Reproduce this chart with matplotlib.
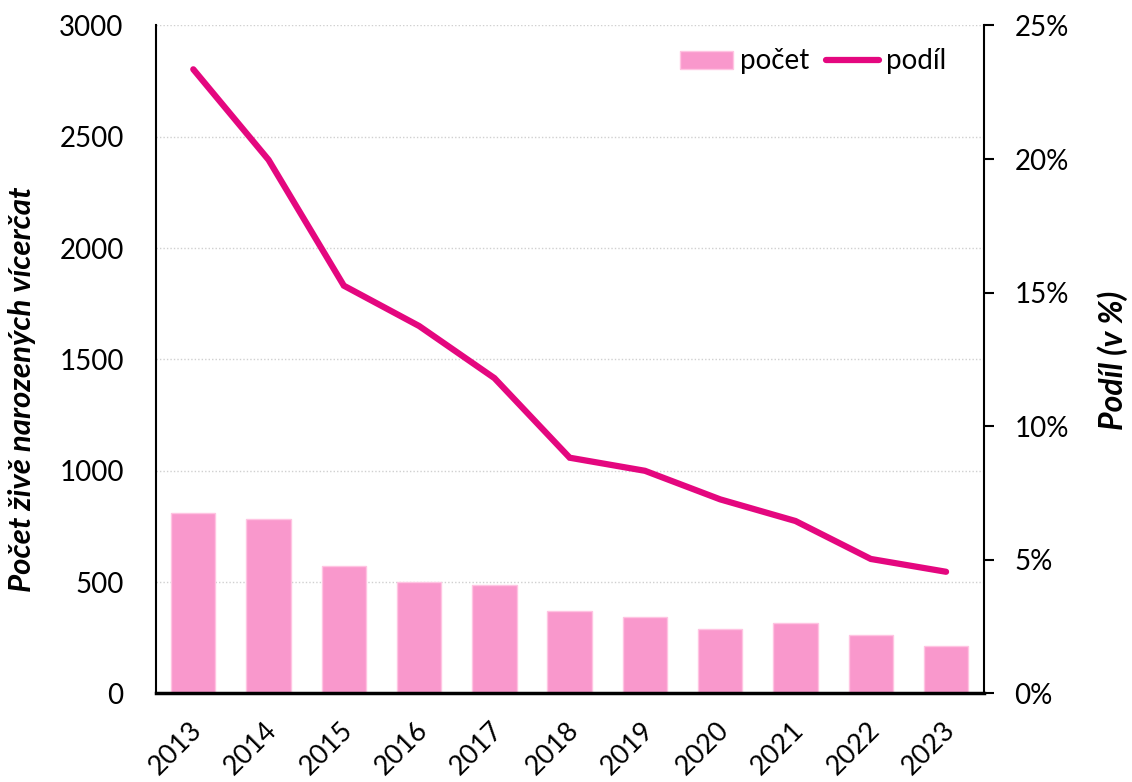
import matplotlib
matplotlib.use("Agg")
import matplotlib.pyplot as plt
import matplotlib.transforms as mtransforms
from matplotlib.ticker import FuncFormatter, MultipleLocator

years = ["2013", "2014", "2015", "2016", "2017", "2018", "2019", "2020", "2021", "2022", "2023"]
pocet = [811, 782, 573, 500, 487, 368, 343, 290, 316, 262, 212]
podil = [23.36, 19.97, 15.26, 13.75, 11.80, 8.82, 8.33, 7.26, 6.45, 5.03, 4.55]

plt.rcParams['font.family'] = ['Lato', 'DejaVu Sans']
FS = 20

fig = plt.figure(figsize=(11.32, 7.82), dpi=100)
ax = fig.add_axes([0.1375, 0.1134, 0.869 - 0.1375, 0.9674 - 0.1134])
ax2 = ax.twinx()

x = list(range(len(years)))
bars = ax.bar(x, pocet, width=0.59, color="#F998CC", edgecolor="#FFC4E2", linewidth=1, zorder=2, label="počet")
line, = ax2.plot(x, podil, color="#E4077F", lw=4.5, solid_capstyle="round", solid_joinstyle="miter", zorder=3, label="podíl")

ax.set_xlim(-0.5, len(years) - 0.5)
ax.set_ylim(0, 3000)
ax2.set_ylim(0, 25)
ax.yaxis.set_major_locator(MultipleLocator(500))
ax2.yaxis.set_major_locator(MultipleLocator(5))
ax2.yaxis.set_major_formatter(FuncFormatter(lambda v, p: f"{int(round(v))}%"))

ax.grid(axis="y", color="#D0D0D0", linestyle=(0, (1, 1.5)), linewidth=1, zorder=0)
ax.set_axisbelow(True)

for a in (ax, ax2):
    a.spines["top"].set_visible(False)
ax.spines["right"].set_visible(False)
ax.spines["left"].set_linewidth(1.5)
ax.spines["bottom"].set_linewidth(2.5)
ax2.spines["left"].set_visible(False)
ax2.spines["bottom"].set_visible(False)
ax2.spines["right"].set_linewidth(1.5)

ax.set_xticks(x)
ax.set_xticklabels(years, rotation=45, ha="right", rotation_mode="anchor", fontsize=19.5)
ax.tick_params(axis="x", length=0, pad=17)
offset = mtransforms.ScaledTranslation(-4 / 100, 0, fig.dpi_scale_trans)
for lbl in ax.get_xticklabels():
    lbl.set_transform(lbl.get_transform() + offset)
ax.tick_params(axis="y", length=0, labelsize=FS, pad=23)
ax2.tick_params(axis="y", length=7, width=1.5, labelsize=FS, pad=15)

ax.set_ylabel("Počet živě narozených vícerčat", fontsize=22.5, fontweight="bold", fontstyle="italic")
ax.yaxis.set_label_coords(-0.1614, 0.456)
ax.yaxis.label.set_verticalalignment("center")
ax2.set_ylabel("Podíl (v %)", fontsize=23, fontweight="bold", fontstyle="italic")
ax2.yaxis.set_label_coords(1.1558, 0.499)
ax2.yaxis.label.set_verticalalignment("center")

ax2.legend([bars, line], ["počet", "podíl"], loc="upper right", bbox_to_anchor=(0.9845, 1.003),
           ncol=2, frameon=False, fontsize=FS, handlelength=1.9, handleheight=0.64,
           columnspacing=0.6, handletextpad=0.25)

fig.savefig("out.png", dpi=100)
